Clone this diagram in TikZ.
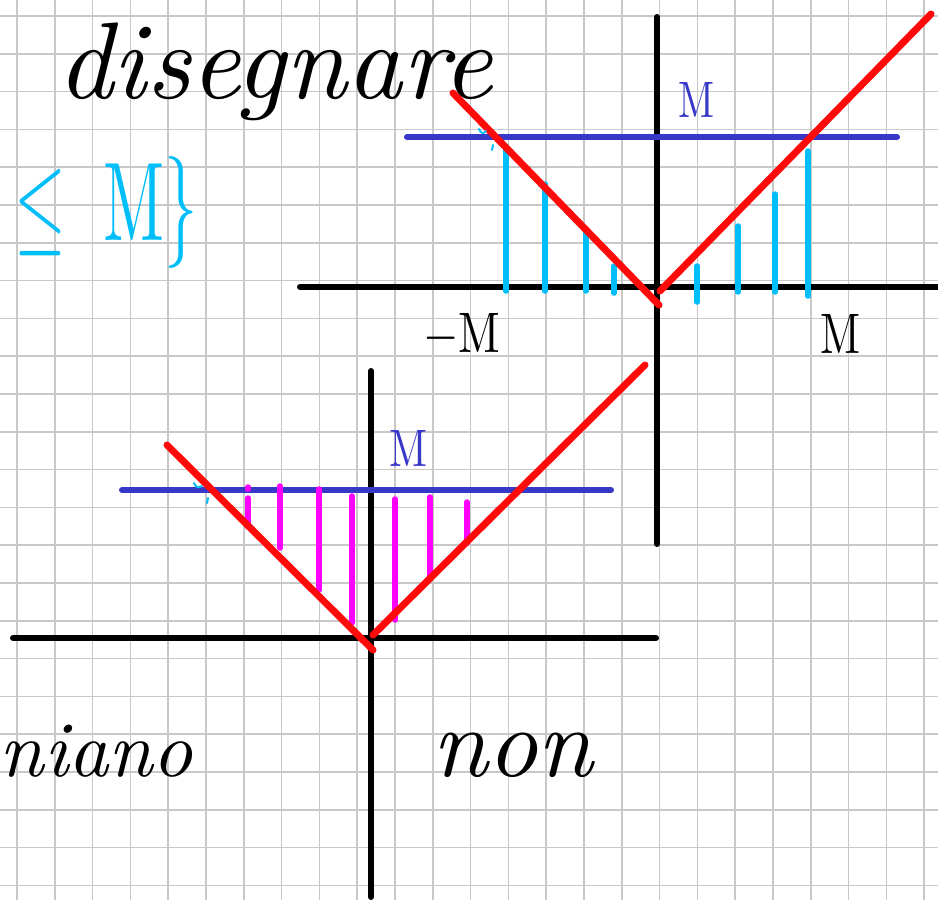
\documentclass[tikz,border=0pt]{standalone}
\usepackage{graphicx}
\definecolor{gridc}{RGB}{200,200,200}
\definecolor{penred}{RGB}{255,10,10}
\definecolor{penblue}{RGB}{55,55,200}
\definecolor{pencyan}{RGB}{0,190,250}
\definecolor{penmag}{RGB}{255,0,255}
\tikzset{
  gridline/.style={gridc, line width=1.6pt},
  axisline/.style={black, line width=6pt, line cap=round},
  absline/.style={penred, line width=7pt, line cap=round},
  levelline/.style={penblue, line width=6pt, line cap=round},
  cbar/.style={pencyan, line width=5.5pt, line cap=round},
  pbar/.style={penmag, line width=5.5pt, line cap=round},
  tick/.style={pencyan, line width=2pt, line cap=round},
  hand/.style={inner sep=0pt, outer sep=0pt},
}
\begin{document}
\begin{tikzpicture}[x=1pt,y=-1pt]
\fill[white] (0,0) rectangle (938,900);
\useasboundingbox (0,0) rectangle (938,900);
% grid paper
\foreach \i in {0,...,24} \draw[gridline] ({17+\i*37.8},0) -- ({17+\i*37.8},900);
\foreach \j in {0,...,23} \draw[gridline] (0,{16+\j*37.8}) -- (938,{16+\j*37.8});

% ---------- top graph ----------
\coordinate (tx1) at (300,287); \coordinate (tx2) at (945,287);
\coordinate (ty1) at (657,17);  \coordinate (ty2) at (657,544);
\draw[axisline] (tx1) -- (tx2);
\draw[axisline] (ty1) -- (ty2);
\coordinate (tm1) at (407,137); \coordinate (tm2) at (897,137);
\draw[levelline] (tm1) -- (tm2);
\foreach \x/\t/\b in {506/146/291, 545/184/291, 586/229/291, 614/266/293,
                      697/266/302, 738/226/292, 775/194/292, 808/151/296}
  \draw[cbar] (\x,\t) -- (\x,\b);
\coordinate (tl1) at (453,93);  \coordinate (tl2) at (659,305);
\coordinate (tr1) at (660,291); \coordinate (tr2) at (931,14);
\draw[absline] (tl1) -- (tl2);
\draw[absline] (tr1) -- (tr2);
\draw[tick] (479,129) .. controls (481,134) and (484,134) .. (486,131);
\draw[tick] (493,145) -- (492,150);

% ---------- bottom graph ----------
\coordinate (bx1) at (13,638);  \coordinate (bx2) at (656,638);
\coordinate (by1) at (371,371); \coordinate (by2) at (371,897);
\draw[axisline] (bx1) -- (bx2);
\draw[axisline] (by1) -- (by2);
\coordinate (bm1) at (122,490); \coordinate (bm2) at (611,490);
\draw[levelline] (bm1) -- (bm2);
\draw[pbar] (248,487) -- (248,489);
\foreach \x/\t/\b in {248/498/527, 280/486/548, 319/489/590, 352/496/623,
                      395/499/620, 430/497/577, 467/502/543}
  \draw[pbar] (\x,\t) -- (\x,\b);
\coordinate (bl1) at (167,445); \coordinate (bl2) at (373,650);
\coordinate (br1) at (373,635); \coordinate (br2) at (645,365);
\draw[absline] (bl1) -- (bl2);
\draw[absline] (br1) -- (br2);
\draw[tick] (194,483) .. controls (196,488) and (199,488) .. (202,486);
\draw[tick] (208,498) -- (207,503);

% ---------- texts ----------
\node[hand, anchor=base west] (title) at (57,98)
  {\resizebox{436pt}{!}{\itshape disegnare}};
\node[hand, text=pencyan] (setM) at (106,212)
  {\resizebox*{183pt}{112pt}{$\leq\;\mathrm{M}\}$}};
\node[hand, anchor=base] (negM) at (462,352)
  {\resizebox{77pt}{39pt}{$-\mathrm{M}$}};
\node[hand, anchor=base] (posM) at (840,353)
  {\resizebox{40pt}{39pt}{$\mathrm{M}$}};
\node[hand, anchor=base, text=penblue] (topM) at (696,117)
  {\resizebox{36pt}{35pt}{$\mathrm{M}$}};
\node[hand, anchor=base, text=penblue] (botM) at (409,466)
  {\resizebox{38pt}{36pt}{$\mathrm{M}$}};
\node[hand, anchor=base west] (niano) at (0,776)
  {\resizebox{193pt}{!}{\itshape niano}};
\node[hand, anchor=base west] (non) at (432,776)
  {\resizebox{161pt}{!}{\itshape non}};
\end{tikzpicture}
\end{document}
